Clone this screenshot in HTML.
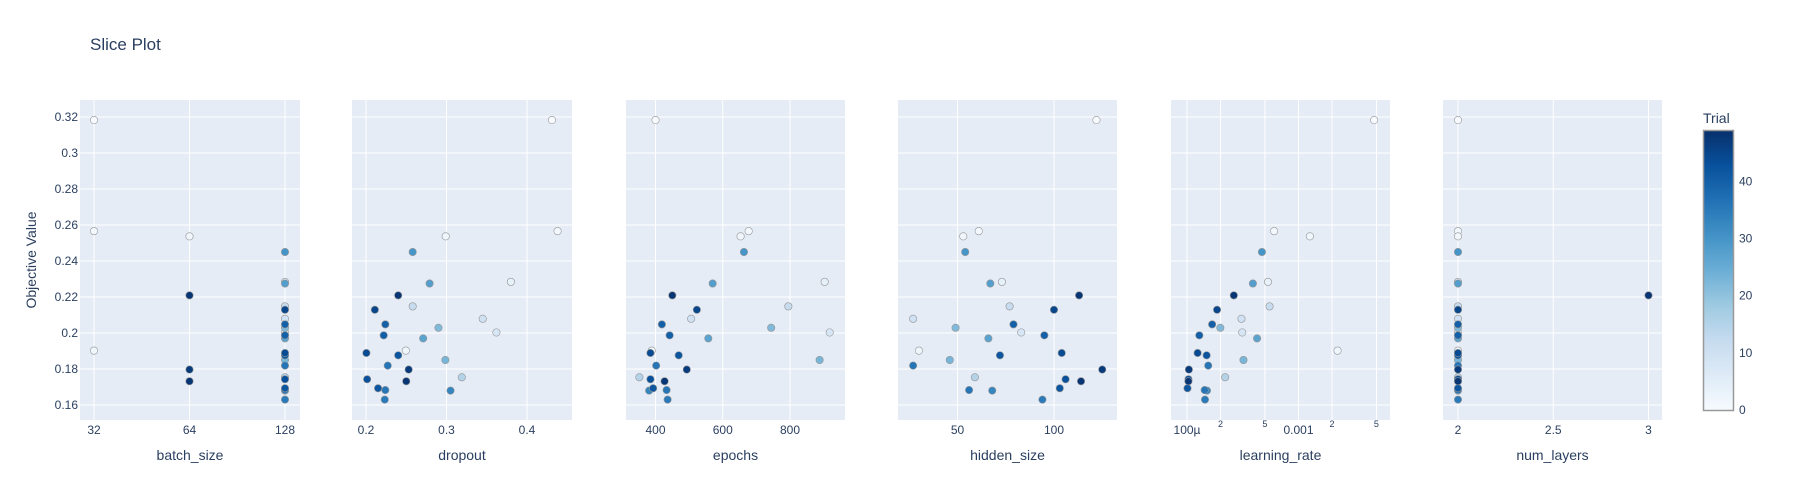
<!DOCTYPE html>
<html><head><meta charset="utf-8"><style>
body{margin:0;background:#fff;}
svg{display:block;font-family:"Liberation Sans",Arial,sans-serif;}
</style></head><body>
<svg id="chart" width="1800" height="500" viewBox="0 0 1800 500" xmlns="http://www.w3.org/2000/svg">
<defs>
<linearGradient id="cbgrad" x1="0" y1="1" x2="0" y2="0">
<stop offset="0" stop-color="rgb(247,251,255)"/><stop offset="0.125" stop-color="rgb(222,235,247)"/>
<stop offset="0.25" stop-color="rgb(198,219,239)"/><stop offset="0.375" stop-color="rgb(158,202,225)"/>
<stop offset="0.5" stop-color="rgb(107,174,214)"/><stop offset="0.625" stop-color="rgb(66,146,198)"/>
<stop offset="0.75" stop-color="rgb(33,113,181)"/><stop offset="0.875" stop-color="rgb(8,81,156)"/>
<stop offset="1" stop-color="rgb(8,48,107)"/>
</linearGradient>
</defs>
<text x="90" y="50" font-size="17" fill="#2a3f5f">Slice Plot</text>
<text transform="translate(36,260) rotate(-90)" text-anchor="middle" font-size="14" fill="#2a3f5f">Objective Value</text>
<g id="panels"></g>
<g id="colorbar">
<text x="1703" y="123" font-size="14" fill="#2a3f5f">Trial</text>
<rect x="1703.5" y="130.5" width="30" height="280" fill="url(#cbgrad)" stroke="#999" stroke-width="1.5"/>
</g>
</svg>
<script>
const values  = [0.3183,0.2566,0.2537,0.245,0.2275,0.2284,0.2209,0.2129,0.2148,0.2079,0.2048,0.2029,0.2003,0.1987,0.1970,0.1889,0.1902,0.1876,0.1850,0.1819,0.1797,0.1754,0.1743,0.1732,0.1693,0.1683,0.1680,0.1630];
const trials  = [0,1,2,30,28,4,48,45,12,10,40,22,8,40,27,44,2,42,23,36,47,15,43,48,42,36,33,35];
const batchSize = [32,32,64,128,128,128,64,128,128,128,128,128,128,128,128,128,32,128,128,128,64,128,128,64,128,128,128,128];
const dropout = [0.431,0.438,0.299,0.258,0.279,0.380,0.240,0.211,0.258,0.345,0.224,0.290,0.362,0.222,0.271,0.2005,0.2495,0.240,0.2986,0.227,0.253,0.319,0.2014,0.250,0.215,0.224,0.305,0.2233];
const epochs  = [400,677,653,663,570,903,450,523,795,506,419,744,918,442,557,385,389,469,888,402,493,352,385,427,393,433,381,436];
const hidden  = [122,61,53,54,67,73,113,100,77,27,79,49,83,95,66,104,30,72,46,27,125,59,106,114,103,56,68,94];
const lr      = [4.77e-3,6.04e-4,1.265e-3,4.70e-4,3.90e-4,5.32e-4,2.63e-4,1.86e-4,5.50e-4,3.08e-4,1.68e-4,1.99e-4,3.13e-4,1.29e-4,4.25e-4,1.245e-4,2.24e-3,1.50e-4,3.21e-4,1.55e-4,1.04e-4,2.20e-4,1.03e-4,1.03e-4,1.01e-4,1.44e-4,1.51e-4,1.45e-4];
const layers  = [2,2,2,2,2,2,3,2,2,2,2,2,2,2,2,2,2,2,2,2,2,2,2,2,2,2,2,2];
const yTicks  = [0.16,0.18,0.2,0.22,0.24,0.26,0.28,0.3,0.32];
const yTickLabels = ["0.16","0.18","0.2","0.22","0.24","0.26","0.28","0.3","0.32"];
const cbTicks = [0,10,20,30,40];
const trialMax = 49;

const NS="http://www.w3.org/2000/svg";
const svg=document.getElementById('chart');
const panelsG=document.getElementById('panels');
const PT=100,PB=420;
const yScale=v=>405-(v-0.16)*1800;
const stops=[[0,[247,251,255]],[0.125,[222,235,247]],[0.25,[198,219,239]],[0.375,[158,202,225]],[0.5,[107,174,214]],[0.625,[66,146,198]],[0.75,[33,113,181]],[0.875,[8,81,156]],[1,[8,48,107]]];
function color(t){let f=Math.max(0,Math.min(1,t/trialMax));for(let i=1;i<stops.length;i++){if(f<=stops[i][0]){const a=stops[i-1],b=stops[i];const u=(f-a[0])/(b[0]-a[0]);const c=a[1].map((v,k)=>Math.round(v+(b[1][k]-v)*u));return `rgb(${c})`;}}return 'rgb(8,48,107)';}
function mk(tag,attrs,parent){const e=document.createElementNS(NS,tag);for(const k in attrs)e.setAttribute(k,attrs[k]);(parent||svg).appendChild(e);return e;}

const panels=[
 {name:'batch-size',title:'batch_size',x0:80,x1:300,data:batchSize,scale:v=>94+(Math.log2(v)-5)*95.5,ticks:[32,64,128],labels:["32","64","128"]},
 {name:'dropout',title:'dropout',x0:352,x1:572,data:dropout,scale:v=>366+(v-0.2)*805,ticks:[0.2,0.3,0.4],labels:["0.2","0.3","0.4"]},
 {name:'epochs',title:'epochs',x0:626,x1:845,data:epochs,scale:v=>655.5+(v-400)*0.3363,ticks:[400,600,800],labels:["400","600","800"]},
 {name:'hidden-size',title:'hidden_size',x0:898,x1:1117,data:hidden,scale:v=>957.5+(v-50)*1.93,ticks:[50,100],labels:["50","100"]},
 {name:'learning-rate',title:'learning_rate',x0:1171,x1:1390,data:lr,scale:v=>1187+(Math.log10(v)+4)*111.5,ticks:[1e-4,2e-4,5e-4,1e-3,2e-3,5e-3],labels:["100µ","2","5","0.001","2","5"],minor:[false,true,true,false,true,true]},
 {name:'num-layers',title:'num_layers',x0:1443,x1:1662,data:layers,scale:v=>1458+(v-2)*190.5,ticks:[2,2.5,3],labels:["2","2.5","3"]}
];

panels.forEach((p,pi)=>{
 const g=mk('g',{},panelsG);
 
 
 const bg=mk('rect',{x:p.x0,y:PT,width:p.x1-p.x0,height:PB-PT,fill:'#e5ecf6'},g);
 
 
 yTicks.forEach(t=>{const l=mk('line',{x1:p.x0,x2:p.x1,y1:yScale(t),y2:yScale(t),stroke:'#fff','stroke-width':1},g);
  
  });
 p.ticks.forEach((t,i)=>{const x=p.scale(t);
  const l=mk('line',{x1:x,x2:x,y1:PT,y2:PB,stroke:'#fff','stroke-width':1},g);
  
  
  const small=p.minor&&p.minor[i];
  const tx=mk('text',{x:x,y:small?427:434,'text-anchor':'middle','font-size':small?9:12,fill:'#2a3f5f'},g);
  tx.textContent=p.labels[i];
  
  
 });
 const at=mk('text',{x:(p.x0+p.x1)/2,y:460,'text-anchor':'middle','font-size':14,fill:'#2a3f5f'},g);
 at.textContent=p.title;
 
 
 if(pi===0){yTicks.forEach((t,i)=>{const tx=mk('text',{x:p.x0-2,y:yScale(t)+4,'text-anchor':'end','font-size':12,fill:'#2a3f5f'},g);
  tx.textContent=yTickLabels[i];
  
  });}
 const order=values.map((_,i)=>i).sort((a,b)=>trials[a]-trials[b]);
 order.forEach(i=>{const c=mk('circle',{cx:p.scale(p.data[i]),cy:yScale(values[i]),r:3.7,fill:color(trials[i]),stroke:'rgb(150,150,150)','stroke-width':0.6},g);
  
  });
});
const cb=document.getElementById('colorbar');
cbTicks.forEach(t=>{const y=410-t/trialMax*280;
 const tx=mk('text',{x:1739,y:y+4,'font-size':12,fill:'#2a3f5f'},cb);
 tx.textContent=String(t);
 
 });
</script>
</body></html>
